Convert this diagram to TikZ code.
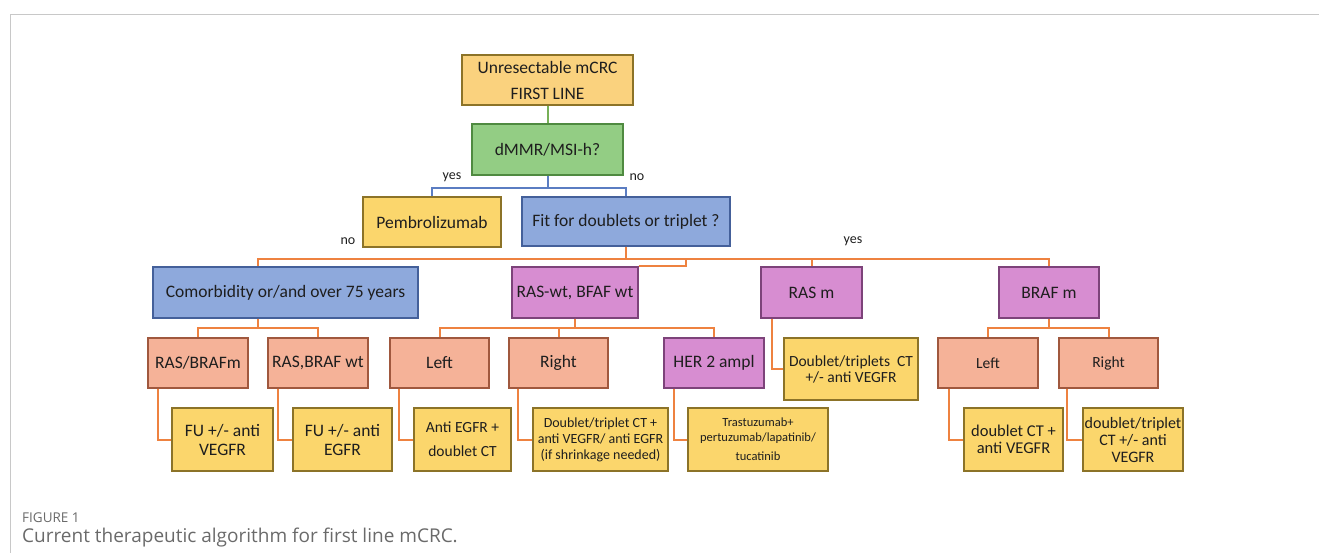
\documentclass[tikz,border=0pt]{standalone}
\usepackage{fontspec}
\setmainfont{Carlito}
\newfontfamily\captionfont{Open Sans}
\usepackage{xcolor}
\usepackage{tikz}
\usetikzlibrary{positioning}
\definecolor{boxtop}{HTML}{FAD27E}
\definecolor{boxyellow}{HTML}{FBD66C}
\definecolor{edgeyellow}{HTML}{8C7328}
\definecolor{boxgreen}{HTML}{93CD84}
\definecolor{edgegreen}{HTML}{4F8A40}
\definecolor{boxblue}{HTML}{8EA9DC}
\definecolor{edgeblue}{HTML}{44609A}
\definecolor{boxpurple}{HTML}{D78DD1}
\definecolor{edgepurple}{HTML}{7D437A}
\definecolor{boxsalmon}{HTML}{F5B298}
\definecolor{edgesalmon}{HTML}{A0583E}
\definecolor{linkorange}{HTML}{EE8240}
\definecolor{linkblue}{HTML}{5B7DC2}
\definecolor{linkgreen}{HTML}{77B057}
\definecolor{textdark}{HTML}{1E1E1E}
\definecolor{framegray}{HTML}{C8C8C8}
\definecolor{captiongray}{HTML}{6A6A6A}
\tikzset{
    box/.style = {rectangle, line width = 1.3pt, align = center, inner sep = 0pt, text = textdark, font = \fontsize{17.5}{19}\selectfont},
    topbox/.style = {box, fill = boxtop, draw = edgeyellow},
    yellowbox/.style = {box, fill = boxyellow, draw = edgeyellow},
    greenbox/.style = {box, fill = boxgreen, draw = edgegreen},
    bluebox/.style = {box, fill = boxblue, draw = edgeblue},
    purplebox/.style = {box, fill = boxpurple, draw = edgepurple},
    salmonbox/.style = {box, fill = boxsalmon, draw = edgesalmon},
    boxsize/.style 2 args = {minimum width = #1, minimum height = #2},
    orangelink/.style = {draw = linkorange, line width = 2pt},
    bluelink/.style = {draw = linkblue, line width = 2pt},
    greenlink/.style = {draw = linkgreen, line width = 2pt},
    answer/.style = {text = textdark, inner sep = 0pt, font = \fontsize{14}{14}\selectfont}
}

\begin{document}
\begin{tikzpicture}[x = 1pt, y = -1pt]
    \useasboundingbox (0, 0) rectangle (1319, 553);
    \draw [framegray, line width = 1pt] (10, 553) -- (10, 15) -- (1319, 15);

    \node [topbox, boxsize = {171}{50}] (1) at (547.5, 80) {Unresectable mCRC\\[7pt]FIRST LINE};
    \node [greenbox, boxsize = {151}{51}] (2) at (547.5, 149.5) {dMMR/MSI-h?};
    \node [yellowbox, boxsize = {138}{50}] (3) at (432, 222) {Pembrolizumab};
    \node [bluebox, boxsize = {208}{49}] (4) at (626, 221.5) {Fit for doublets or triplet ?};
    \node [bluebox, boxsize = {265}{51}] (5) at (285.5, 292.5) {Comorbidity or/and over 75 years};
    \node [purplebox, boxsize = {126}{51}] (6) at (575, 292.5) {RAS-wt, BFAF wt};
    \node [purplebox, boxsize = {101}{51}] (7) at (811.5, 292.5) {RAS m};
    \node [purplebox, boxsize = {100}{51}] (8) at (1049, 292.5) {BRAF m};

    \node [salmonbox, boxsize = {100}{50}] (9) at (198, 363) {RAS/BRAFm};
    \node [salmonbox, boxsize = {100}{50}] (10) at (318, 363) {RAS,BRAF wt};
    \node [salmonbox, boxsize = {99}{50}] (11) at (439.5, 363) {Left};
    \node [salmonbox, boxsize = {99}{50}] (12) at (558.5, 363) {Right};
    \node [purplebox, boxsize = {100}{50}] (13) at (714, 363) {HER 2 ampl};
    \node [yellowbox, boxsize = {134}{62}, font = \fontsize{15.5}{16}\selectfont] (14) at (851, 369) {Doublet/triplets~ CT\\+/- anti VEGFR};
    \node [salmonbox, boxsize = {100}{50}, font = \fontsize{15.5}{16}\selectfont] (15) at (988, 363) {Left};
    \node [salmonbox, boxsize = {99}{50}, font = \fontsize{15.5}{16}\selectfont] (16) at (1108.5, 363) {Right};

    \node [yellowbox, boxsize = {101}{63}] (17) at (222.5, 439.5) {FU +/- anti\\VEGFR};
    \node [yellowbox, boxsize = {99}{63}] (18) at (342.5, 439.5) {FU +/- anti\\EGFR};
    \node [yellowbox, boxsize = {97}{63}, font = \fontsize{15.5}{17}\selectfont] (19) at (462.5, 439.5) {Anti EGFR +\\[7pt]doublet CT};
    \node [yellowbox, boxsize = {135}{63}, font = \fontsize{14}{16}\selectfont] (20) at (600.5, 439.5) {Doublet/triplet CT +\\anti VEGFR/ anti EGFR\\(if shrinkage needed)};
    \node [yellowbox, boxsize = {140}{63}, font = \fontsize{12.5}{14.5}\selectfont] (21) at (758, 439.5) {Trastuzumab+\\pertuzumab/lapatinib/\\[5pt]tucatinib};
    \node [yellowbox, boxsize = {99}{63}, font = \fontsize{16.5}{17}\selectfont] (22) at (1013.5, 439.5) {doublet CT +\\anti VEGFR};
    \node [yellowbox, boxsize = {100}{63}, font = \fontsize{16}{17}\selectfont] (23) at (1133, 439.5) {doublet/triplet\\CT +/- anti\\VEGFR};

    \node [answer] (y1) at (452, 177) {yes};
    \node [answer] (n1) at (637, 177) {no};
    \node [answer] (n2) at (348, 241) {no};
    \node [answer] (y2) at (853, 241) {yes};

    \draw [greenlink] (1) -- (2);
    \draw [bluelink] (2.south) -- ++(0, 12) -| (3.north);
    \draw [bluelink] (2.south) -- ++(0, 12) -| (4.north);

    \draw [orangelink] (4.south) -- ++(0, 12) -| ([xshift = -27.5pt] 5.north);
    \draw [orangelink] (4.south) -- ++(0, 12) -| (7.north);
    \draw [orangelink] (4.south) -- ++(0, 12) -| (8.north);
    \coordinate (jog) at (686, 258);
    \draw [orangelink] (6.north east) -| (jog);

    \draw [orangelink] ([xshift = -27.5pt] 5.south) -- ++(0, 9) -| (9.north);
    \draw [orangelink] ([xshift = -27.5pt] 5.south) -- ++(0, 9) -| (10.north);
    \draw [orangelink] (6.south) -- ++(0, 9) -| (11.north);
    \draw [orangelink] (6.south) -- ++(0, 9) -| (12.north);
    \draw [orangelink] (6.south) -- ++(0, 9) -| (13.north);
    \draw [orangelink] (8.south) -- ++(0, 9) -| (15.north);
    \draw [orangelink] (8.south) -- ++(0, 9) -| (16.north);

    \draw [orangelink] ([xshift = 11pt] 9.south west) |- (17.west);
    \draw [orangelink] ([xshift = 11pt] 10.south west) |- (18.west);
    \draw [orangelink] ([xshift = 10pt] 11.south west) |- (19.west);
    \draw [orangelink] ([xshift = 10pt] 12.south west) |- (20.west);
    \draw [orangelink] ([xshift = 11pt] 13.south west) |- (21.west);
    \draw [orangelink] ([xshift = 12pt] 7.south west) |- (14.west);
    \draw [orangelink] ([xshift = 12pt] 15.south west) |- (22.west);
    \draw [orangelink] ([xshift = 9pt] 16.south west) |- (23.west);

    \node [anchor = base west, inner sep = 0pt, text = captiongray, font = \captionfont\fontsize{13.5}{14}\selectfont] (c1) at (22, 522) {FIGURE 1};
    \node [anchor = base west, inner sep = 0pt, text = captiongray, font = \captionfont\fontsize{19}{20}\selectfont] (c2) at (22, 542) {Current therapeutic algorithm for first line mCRC.};
\end{tikzpicture}
\end{document}
